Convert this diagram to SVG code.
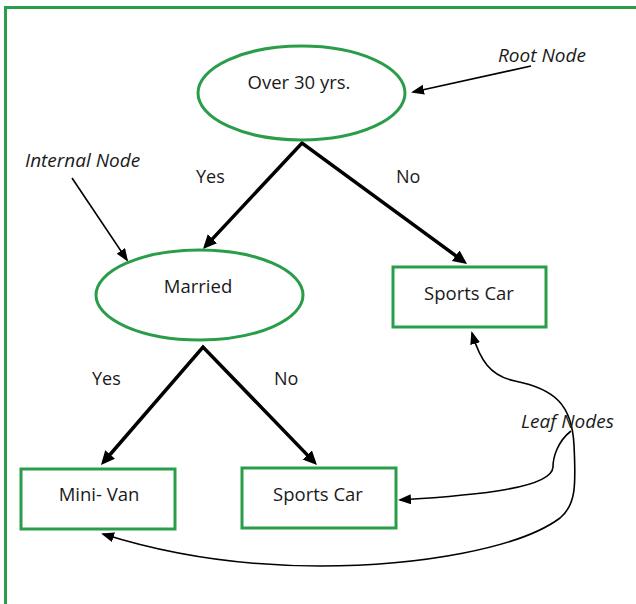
<svg xmlns="http://www.w3.org/2000/svg" width="636" height="604" viewBox="0 0 636 604">
  <defs>
    <style>
      .frame { fill: none; stroke: #2a9d4a; stroke-width: 3; }
      .node-shape { fill: #ffffff; stroke: #2a9d4a; stroke-width: 3; }
      .node-text { font-family: "Open Sans", "Liberation Sans", sans-serif; font-size: 18.5px; fill: #1a1a1a; text-anchor: middle; }
      .branch-label { font-family: "Open Sans", "Liberation Sans", sans-serif; font-size: 18px; fill: #1a1a1a; }
      .note { font-family: "Open Sans", "Liberation Sans", sans-serif; font-size: 19px; font-style: italic; fill: #1a1a1a; }
      .edge { fill: none; stroke: #000000; stroke-width: 3.5; stroke-linejoin: miter; }
      .pointer { fill: none; stroke: #000000; stroke-width: 1.6; }
    </style>
    <marker id="head-bold" markerUnits="userSpaceOnUse" markerWidth="16" markerHeight="14" refX="10" refY="6.5" orient="auto-start-reverse">
      <path d="M0,0 L14,6.5 L0,13 z" fill="#000000"/>
    </marker>
    <marker id="head-thin" markerUnits="userSpaceOnUse" markerWidth="14" markerHeight="12" refX="11" refY="5" orient="auto-start-reverse">
      <path d="M0,0 L13,5 L0,10 z" fill="#000000"/>
    </marker>
  </defs>

  <!-- outer frame, running off the right and bottom edges -->
  <path class="frame" d="M5.5,604 V7.5 H636"/>

  <!-- tree edges and annotation pointers -->
  <g id="connectors">
    <path class="edge" d="M205.7,246.1 L302,143 L463.8,261.6" marker-start="url(#head-bold)" marker-end="url(#head-bold)"/>
    <path class="edge" d="M103.6,462 L203,347 L314.2,462.1" marker-start="url(#head-bold)" marker-end="url(#head-bold)"/>
    <path class="pointer" d="M531,66 L413,92" marker-end="url(#head-thin)"/>
    <path class="pointer" d="M72,178 L127,260" marker-end="url(#head-thin)"/>
    <path class="pointer" d="M472,333 C480,360 490,376 515,381 C555,389 572,405 574,445 C576,485 576,505 560,518 C520,548 420,566 320,566 C230,566 160,552 103,534" marker-start="url(#head-thin)" marker-end="url(#head-thin)"/>
    <path class="pointer" d="M571,431 C557,442 553,458 553,467 C552,488 480,495 400,500" marker-end="url(#head-thin)"/>
  </g>

  <g id="branch-labels">
    <text class="branch-label" x="196" y="183">Yes</text>
    <text class="branch-label" x="396" y="183">No</text>
    <text class="branch-label" x="92" y="385">Yes</text>
    <text class="branch-label" x="274" y="385">No</text>
  </g>

  <g id="annotations">
    <text class="note" x="498" y="62">Root Node</text>
    <text class="note" x="25" y="167">Internal Node</text>
    <text class="note" x="521" y="428">Leaf Nodes</text>
  </g>

  <g id="node-root">
    <ellipse class="node-shape" cx="301.5" cy="93" rx="103.5" ry="47"/>
    <text class="node-text" x="299" y="89">Over 30 yrs.</text>
  </g>

  <g id="node-married">
    <ellipse class="node-shape" cx="199.5" cy="295" rx="103.5" ry="45"/>
    <text class="node-text" x="198" y="293">Married</text>
  </g>

  <g id="leaf-sports-car-top">
    <rect class="node-shape" x="393" y="267" width="153" height="60"/>
    <text class="node-text" x="469" y="300">Sports Car</text>
  </g>

  <g id="leaf-mini-van">
    <rect class="node-shape" x="21" y="469" width="154" height="60"/>
    <text class="node-text" x="99" y="501">Mini- Van</text>
  </g>

  <g id="leaf-sports-car-bottom">
    <rect class="node-shape" x="242" y="468" width="154" height="60"/>
    <text class="node-text" x="318" y="501">Sports Car</text>
  </g>
</svg>
